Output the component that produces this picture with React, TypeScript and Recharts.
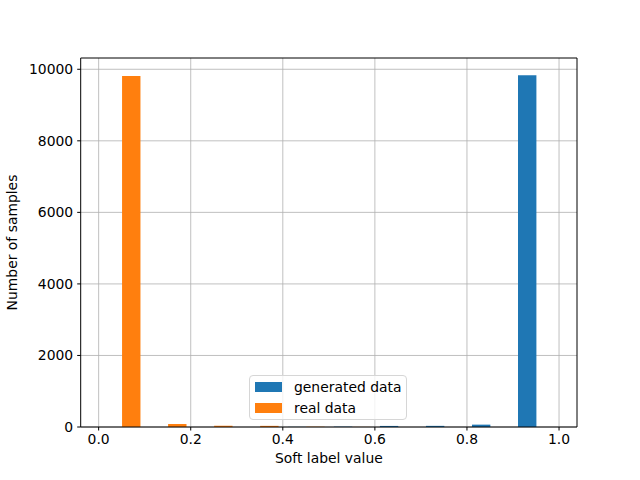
import React from "react";
import {
  BarChart,
  Bar,
  XAxis,
  YAxis,
  CartesianGrid,
  ReferenceLine,
  Label,
} from "recharts";

// bin centers of a 10-bin histogram over [0, 1]
const binCenters = [0.05, 0.15, 0.25, 0.35, 0.45, 0.55, 0.65, 0.75, 0.85, 0.95];
const generatedCounts = [0, 0, 0, 0, 4, 10, 30, 32, 66, 9832];
const realCounts = [9813, 84, 36, 32, 8, 3, 0, 0, 0, 0];
const xTicks = [0, 0.2, 0.4, 0.6, 0.8, 1.0];
const yTicks = [0, 2000, 4000, 6000, 8000, 10000];
const seriesNames = ["generated data", "real data"];
const xDomain = [-0.039, 1.039];
const yDomain = [0, 10315];

const data = binCenters.map((c, i) => ({
  x: c,
  generated: generatedCounts[i],
  real: realCounts[i],
}));

const BLUE = "#1f77b4";
const ORANGE = "#ff7f0e";
const FONT = "DejaVu Sans, sans-serif";
const FS = 13.9;

const LegendBox = () => (
  <div
    style={{
      position: "absolute",
      left: 249,
      top: 375,
      width: 158,
      height: 45,
      background: "rgba(255,255,255,0.8)",
      border: "1px solid #d6d6d6",
      borderRadius: 4,
      fontFamily: FONT,
      fontSize: FS,
      color: "#000",
      boxSizing: "border-box",
      whiteSpace: "nowrap",
    }}
  >
    {[BLUE, ORANGE].map((c, i) => (
      <div
        key={i}
        style={{
          position: "absolute",
          left: 5,
          top: i === 0 ? 1 : 21.5,
          display: "flex",
          alignItems: "center",
          height: 20,
        }}
      >
        <span
          style={{
            display: "inline-block",
            width: 27,
            height: 10,
            background: c,
            marginRight: 12,
          }}
        />
        <span>{seriesNames[i]}</span>
      </div>
    ))}
  </div>
);

export default function App() {
  return (
    <div style={{ position: "fixed", left: 0, top: 0, width: 640, height: 480, background: "#fff" }}>
      <BarChart
        width={640}
        height={480}
        data={data}
        margin={{ top: 58, right: 63, bottom: 13, left: 0 }}
        barGap={0}
      >
        <XAxis
          dataKey="x"
          type="number"
          domain={xDomain}
          ticks={xTicks}
          tickFormatter={(v: number) => v.toFixed(1)}
          allowDataOverflow
          height={40}
          stroke="#000"
          tickLine={{ stroke: "#000" }}
          tickSize={3.5}
          tick={{ fill: "#000", fontFamily: FONT, fontSize: FS, dy: 2 }}
        >
          <Label
            value="Soft label value"
            position="insideBottom"
            offset={4}
            style={{ fill: "#000", fontFamily: FONT, fontSize: FS }}
          />
        </XAxis>
        <YAxis
          type="number"
          domain={yDomain}
          ticks={yTicks}
          allowDataOverflow
          width={80.7}
          stroke="#000"
          tickLine={{ stroke: "#000" }}
          tickSize={3.5}
          tick={{ fill: "#000", fontFamily: FONT, fontSize: FS, dx: -2 }}
        >
          <Label
            value="Number of samples"
            angle={-90}
            position="insideLeft"
            offset={12}
            style={{ fill: "#000", fontFamily: FONT, fontSize: FS, textAnchor: "middle" }}
          />
        </YAxis>
        <Bar dataKey="generated" name={seriesNames[0]} fill={BLUE} barSize={18.4} isAnimationActive={false} />
        <Bar dataKey="real" name={seriesNames[1]} fill={ORANGE} barSize={18.4} isAnimationActive={false} />
        <CartesianGrid stroke="#b0b0b0" strokeWidth={0.8} verticalValues={xTicks} horizontalValues={yTicks} />
        <ReferenceLine y={yDomain[1]} stroke="#000" strokeWidth={1} ifOverflow="extendDomain" />
        <ReferenceLine x={xDomain[1]} stroke="#000" strokeWidth={1} ifOverflow="extendDomain" />
      </BarChart>
      <LegendBox />
    </div>
  );
}
